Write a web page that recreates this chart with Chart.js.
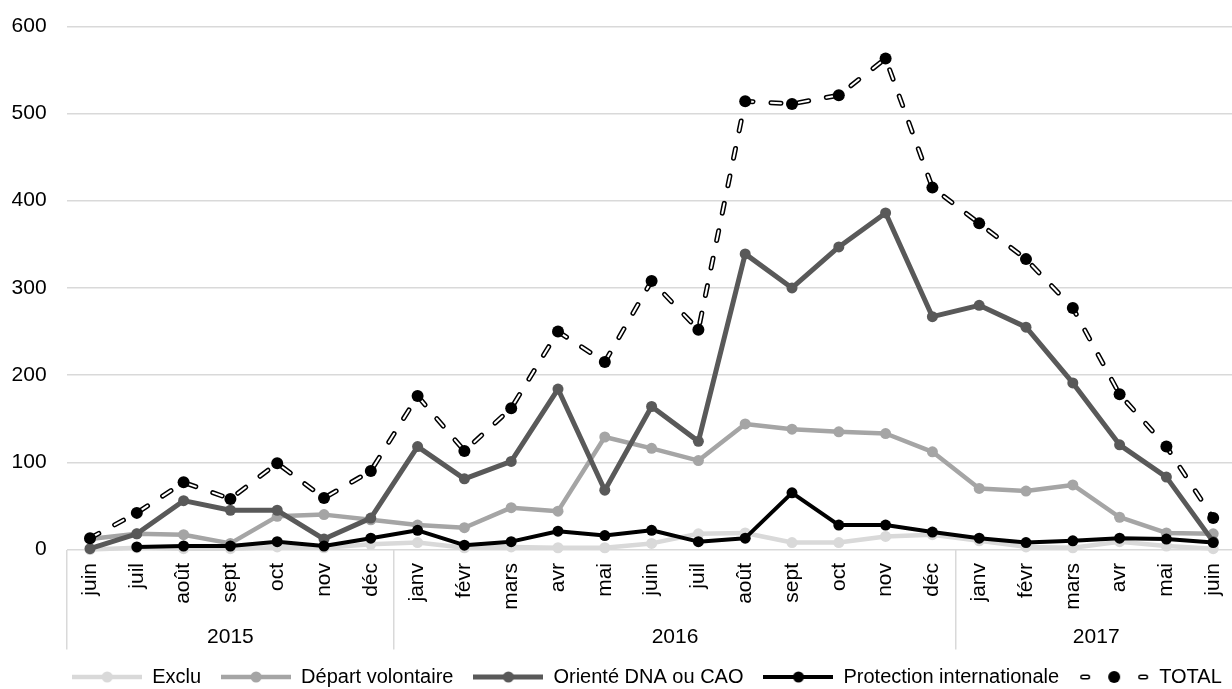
<!DOCTYPE html>
<html lang="fr">
<head>
<meta charset="utf-8">
<title>Sorties par motif, juin 2015 – juin 2017</title>
<script src="https://cdn.jsdelivr.net/npm/chart.js@4.4.1/dist/chart.umd.min.js"></script>
<style>
  html, body { margin: 0; padding: 0; background: #ffffff; overflow: hidden; }
  #wrap { width: 1284px; height: 697px; }
</style>
</head>
<body>
<div id="wrap"><canvas id="chart" width="1284" height="697"></canvas></div>
<script>
// Month labels (first level of the category axis)
const months = ['juin', 'juil', 'août', 'sept', 'oct', 'nov', 'déc',
  'janv', 'févr', 'mars', 'avr', 'mai', 'juin', 'juil', 'août', 'sept', 'oct', 'nov', 'déc',
  'janv', 'févr', 'mars', 'avr', 'mai', 'juin'];

// Year labels (second level) and how many months each covers
const yearLabels = ['2015', '2016', '2017'];
const monthsPerYear = [7, 12, 6];

// Monthly counts per outcome
const exclu = [0, 2, 1, 1, 3, 2, 6, 8, 2, 3, 2, 2, 7, 18, 19, 8, 8, 15, 17, 10, 3, 2, 9, 4, 1];
const departVolontaire = [12, 18, 17, 7, 38, 40, 34, 28, 25, 48, 44, 129, 116, 102, 144, 138, 135, 133, 112, 70, 67, 74, 37, 19, 18];
const orienteDnaCao = [1, 18, 56, 45, 45, 12, 36, 118, 81, 101, 184, 68, 164, 124, 339, 300, 347, 386, 267, 280, 255, 191, 120, 83, 9];
const protectionInternationale = [null, 3, 4, 4, 9, 4, 13, 22, 5, 9, 21, 16, 22, 9, 13, 65, 28, 28, 20, 13, 8, 10, 13, 12, 8];
const total = [13, 42, 77, 58, 99, 59, 90, 176, 113, 162, 250, 215, 308, 252, 514, 511, 521, 563, 415, 374, 333, 277, 178, 118, 36];

// Group boundaries (category indexes) and centres for the year row
const yearStarts = [];
const yearCenters = [];
let acc = 0;
monthsPerYear.forEach(n => {
  yearStarts.push(acc);
  yearCenters.push(acc + (n - 1) / 2);
  acc += n;
});
yearStarts.push(acc);

Chart.defaults.font.family = '"Liberation Sans", Arial, sans-serif';
Chart.defaults.font.size = 20;
Chart.defaults.color = '#000000';

// Small legend symbol: line with a marker in the middle
function swatch(color, lineWidth, radius, dashed) {
  const c = document.createElement('canvas');
  c.width = 70; c.height = 14;
  const g = c.getContext('2d');
  const mid = 7;
  if (dashed) {
    g.lineCap = 'round';
    [[3.5, 8.5], [61.5, 66.5]].forEach(([a, b]) => {
      g.beginPath(); g.moveTo(a, mid); g.lineTo(b, mid);
      g.strokeStyle = '#000000'; g.lineWidth = 5; g.stroke();
      g.strokeStyle = '#ffffff'; g.lineWidth = 2; g.stroke();
    });
  } else {
    g.beginPath(); g.moveTo(0, mid); g.lineTo(70, mid);
    g.strokeStyle = color; g.lineWidth = lineWidth; g.stroke();
  }
  g.beginPath(); g.arc(35, mid, radius, 0, Math.PI * 2);
  g.fillStyle = color; g.fill();
  return c;
}

function solidSeries(label, data, color, width, order) {
  return {
    label, data, order,
    xAxisID: 'x', yAxisID: 'y',
    borderColor: color, backgroundColor: color,
    borderWidth: width,
    borderJoinStyle: 'round', borderCapStyle: 'round',
    pointRadius: 5.5, pointBorderWidth: 0, pointBackgroundColor: color,
    pointHoverRadius: 5.5,
    tension: 0, clip: false
  };
}

const datasets = [
  solidSeries('Exclu', exclu, '#d9d9d9', 4.5, 6),
  solidSeries('Départ volontaire', departVolontaire, '#a5a5a5', 4.5, 5),
  solidSeries('Orienté DNA ou CAO', orienteDnaCao, '#595959', 5, 4),
  solidSeries('Protection internationale', protectionInternationale, '#000000', 4, 3),
  // TOTAL: black dashed stroke with a white core drawn over it
  {
    label: 'TOTAL', data: total, order: 2, xAxisID: 'x', yAxisID: 'y',
    borderColor: '#000000', borderWidth: 5, borderDash: [10, 18], borderCapStyle: 'round',
    pointRadius: 0, pointHoverRadius: 0, tension: 0, clip: false
  },
  {
    label: 'TOTAL', data: total, order: 1, xAxisID: 'x', yAxisID: 'y',
    borderColor: '#ffffff', borderWidth: 2, borderDash: [10, 18], borderCapStyle: 'round',
    pointRadius: 6, pointHoverRadius: 6, pointBorderWidth: 0, pointBackgroundColor: '#000000',
    tension: 0, clip: false
  }
];

const legendEntries = [
  { text: 'Exclu', symbol: swatch('#d9d9d9', 4.5, 5.5, false), color: '#d9d9d9' },
  { text: 'Départ volontaire', symbol: swatch('#a5a5a5', 4.5, 5.5, false), color: '#a5a5a5' },
  { text: 'Orienté DNA ou CAO', symbol: swatch('#595959', 5, 5.5, false), color: '#595959' },
  { text: 'Protection internationale', symbol: swatch('#000000', 4, 5.5, false), color: '#000000' },
  { text: 'TOTAL', symbol: swatch('#000000', 5, 6, true), color: '#000000' }
];

new Chart(document.getElementById('chart'), {
  type: 'line',
  data: { labels: months, datasets },
  options: {
    responsive: false,
    devicePixelRatio: 1,
    animation: false,
    events: [],
    layout: { padding: { top: 26.3, left: 10, right: 0, bottom: 0 } },
    plugins: {
      tooltip: { enabled: false },
      legend: {
        position: 'bottom',
        align: 'center',
        labels: {
          usePointStyle: true,
          pointStyleWidth: 70,
          padding: 20,
          color: '#000000',
          font: { size: 20 },
          generateLabels: () => legendEntries.map((e, i) => ({
            text: e.text,
            pointStyle: e.symbol,
            fillStyle: e.color,
            strokeStyle: e.color,
            lineWidth: 0,
            hidden: false,
            datasetIndex: i,
            fontColor: '#000000'
          }))
        }
      }
    },
    scales: {
      x: {
        type: 'category',
        position: 'bottom',
        weight: 0,
        offset: true,
        border: { display: false },
        grid: {
          display: true,
          offset: true,
          drawOnChartArea: false,
          drawTicks: true,
          tickLength: 100,
          lineWidth: 1.5,
          color: (ctx) => (ctx.index !== undefined && yearStarts.includes(ctx.index)) ? '#d9d9d9' : 'rgba(0,0,0,0)'
        },
        ticks: {
          autoSkip: false,
          minRotation: 90,
          maxRotation: 90,
          padding: -86.5,
          color: '#000000',
          font: { size: 21 }
        },
        afterFit: (s) => { s.height = 62; }
      },
      years: {
        type: 'linear',
        axis: 'x',
        position: 'bottom',
        weight: 1,
        min: -0.5,
        max: 24.5,
        border: { display: false },
        grid: { display: false, drawTicks: false },
        afterBuildTicks: (s) => { s.ticks = yearCenters.map(v => ({ value: v })); },
        ticks: {
          autoSkip: false,
          padding: 13.5,
          color: '#000000',
          font: { size: 21 },
          callback: (v, i) => yearLabels[i]
        },
        afterFit: (s) => { s.height = 35.5; }
      },
      y: {
        position: 'left',
        min: 0,
        max: 600,
        border: { display: false },
        grid: { color: '#d9d9d9', lineWidth: 1.5, drawTicks: true, tickLength: 20, tickColor: 'rgba(0,0,0,0)' },
        ticks: { stepSize: 100, padding: 0, color: '#000000', font: { size: 21 } },
        afterFit: (s) => { s.width = 56.6; }
      },
      // empty right-hand margin axis (keeps the legend centred on the full figure)
      margin: {
        type: 'linear',
        axis: 'y',
        position: 'right',
        border: { display: false },
        grid: { display: false, drawTicks: false },
        ticks: { display: false },
        afterFit: (s) => { s.width = 47.4; }
      }
    }
  }
});
</script>
</body>
</html>
